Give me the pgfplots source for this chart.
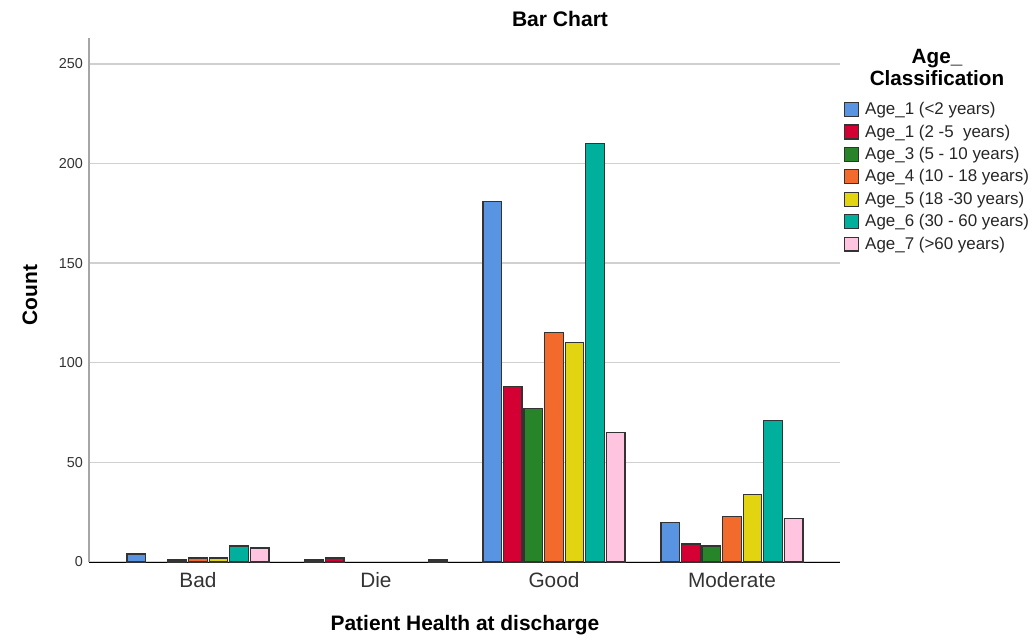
\documentclass[border=0pt]{standalone}
\usepackage{pgfplots}
\pgfplotsset{compat=1.18}
\usepackage{fontspec}
\setmainfont{Liberation Sans}

\definecolor{cA}{RGB}{88,148,226}
\definecolor{cB}{RGB}{212,0,52}
\definecolor{cC}{RGB}{40,132,40}
\definecolor{cD}{RGB}{242,106,44}
\definecolor{cE}{RGB}{226,212,16}
\definecolor{cF}{RGB}{0,176,156}
\definecolor{cG}{RGB}{255,196,224}
\definecolor{gridgray}{RGB}{208,208,208}

\begin{document}
\begin{tikzpicture}
\useasboundingbox (-66.75pt,-58.5pt) rectangle (708.75pt,421.5pt);
\begin{axis}[
    scale only axis,
    width=563.25pt, height=393pt,
    xmin=-0.612, xmax=3.607,
    ymin=0, ymax=263,
    axis x line*=bottom,
    axis y line*=left,
    x axis line style={black, line width=0.75pt, -},
    y axis line style={black!35, line width=1.6pt, -},
    xtick={0,1,2,3},
    xticklabels={Bad,Die,Good,Moderate},
    ytick={0,50,...,250},
    major tick length=0pt,
    ymajorgrids,
    grid style={gridgray, line width=1pt},
    /pgf/number format/assume math mode=true,
    xticklabel style={font=\fontsize{15.6}{18}\selectfont, text=black!80, yshift=-4pt},
    yticklabel style={font=\fontsize{10.8}{13}\selectfont, text=black!80, xshift=-1pt},
    bar width=0.104,
    every axis plot/.append style={ybar, draw=black!80, line width=0.9pt},
    legend style={at={(1.005,0.88)}, anchor=north west, draw=none, fill=none,
        font=\fontsize{12.7}{14}\selectfont, inner sep=0pt,
        row sep=4.1pt, nodes={inner sep=1pt, text=black!85}},
    legend cell align=left,
    legend image code/.code={\draw[#1] (0pt,-5.2pt) rectangle (10.5pt,5.2pt);},
    clip=false,
]
\addplot[fill=cA, bar shift=-0.347] coordinates {(0,4) (1,1) (2,181) (3,20)};
\addlegendentry{\hspace{3.5pt}Age\_1 (<2 years)}
\addplot[fill=cB, bar shift=-0.231] coordinates {(1,2) (2,88) (3,9)};
\addlegendentry{\hspace{3.5pt}Age\_1 (2 -5\ \ years)}
\addplot[fill=cC, bar shift=-0.116] coordinates {(0,1) (2,77) (3,8)};
\addlegendentry{\hspace{3.5pt}Age\_3 (5 - 10 years)}
\addplot[fill=cD, bar shift=0] coordinates {(0,2) (2,115) (3,23)};
\addlegendentry{\hspace{3.5pt}Age\_4 (10 - 18 years)}
\addplot[fill=cE, bar shift=0.116] coordinates {(0,2) (2,110) (3,34)};
\addlegendentry{\hspace{3.5pt}Age\_5 (18 -30 years)}
\addplot[fill=cF, bar shift=0.231] coordinates {(0,8) (2,210) (3,71)};
\addlegendentry{\hspace{3.5pt}Age\_6 (30 - 60 years)}
\addplot[fill=cG, bar shift=0.347] coordinates {(0,7) (1,1) (2,65) (3,22)};
\addlegendentry{\hspace{3.5pt}Age\_7 (>60 years)}
\end{axis}
\node[font=\bfseries\fontsize{15.8}{18}\selectfont] at (353.25pt,407.25pt) {Bar Chart};
\node[font=\bfseries\fontsize{15.7}{18}\selectfont, rotate=90] at (-44.25pt,200.25pt) {Count};
\node[font=\bfseries\fontsize{15.7}{18}\selectfont] at (282pt,-47.25pt) {Patient Health at discharge};
\node[font=\bfseries\fontsize{15.5}{16}\selectfont, align=center] at (636pt,371pt) {Age\_\\Classification};
\end{tikzpicture}
\end{document}
